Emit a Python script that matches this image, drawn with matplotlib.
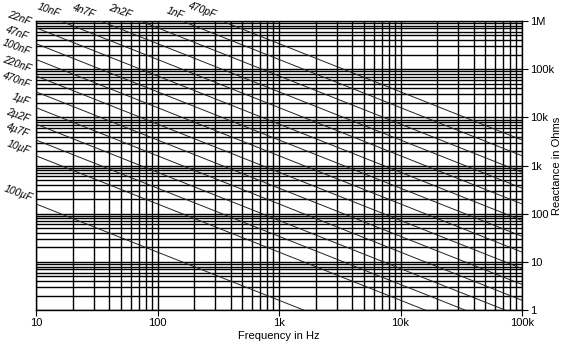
import numpy as np
import matplotlib
matplotlib.use("Agg")
import matplotlib.pyplot as plt
from matplotlib.ticker import LogLocator, FixedLocator, NullFormatter

plt.rcParams['font.family'] = ['Liberation Sans', 'DejaVu Sans']

# capacitor values (farad) and their labels
caps = [470e-12, 1e-9, 2.2e-9, 4.7e-9, 10e-9, 22e-9, 47e-9, 100e-9,
        220e-9, 470e-9, 1e-6, 2.2e-6, 4.7e-6, 10e-6, 100e-6]
cap_labels = ["470pF", "1nF", "2n2F", "4n7F", "10nF", "22nF", "47nF", "100nF",
              "220nF", "470nF", "1\u00b5F", "2\u00b52F", "4\u00b57F", "10\u00b5F", "100\u00b5F"]

x_ticks = [10, 100, 1e3, 1e4, 1e5]
x_ticklabels = ["10", "100", "1k", "10k", "100k"]
y_ticks = [1, 10, 100, 1e3, 1e4, 1e5, 1e6]
y_ticklabels = ["1", "10", "100", "1k", "10k", "100k", "1M"]

# label positions in figure pixels (centre x, centre y)
label_pos = {
    "470pF": (202, 10), "1nF": (175, 13), "2n2F": (120, 11), "4n7F": (84, 11),
    "10nF": (49, 10), "22nF": (19, 18), "47nF": (17, 33), "100nF": (17, 47),
    "220nF": (17, 64), "470nF": (17, 80), "1\u00b5F": (21, 99), "2\u00b52F": (18, 115),
    "4\u00b57F": (18, 130), "10\u00b5F": (19, 147), "100\u00b5F": (18, 193),
}

W, H = 565, 345
fig = plt.figure(figsize=(W / 100, H / 100), dpi=100)
ax = fig.add_axes([36 / W, 1 - 310 / H, (522 - 36) / W, (310 - 21) / H])

f = np.logspace(1, 5, 400)
for c in caps:
    xc = 1 / (2 * np.pi * f * c)
    ax.plot(f, xc, color='#222222', lw=0.7, zorder=3)

ax.set_xscale('log')
ax.set_yscale('log')
ax.set_xlim(10, 1e5)
ax.set_ylim(1, 1e6)

ax.xaxis.set_major_locator(FixedLocator(x_ticks))
ax.set_xticklabels(x_ticklabels)
ax.yaxis.set_major_locator(FixedLocator(y_ticks))
ax.set_yticklabels(y_ticklabels)
ax.xaxis.set_minor_locator(LogLocator(base=10, subs=np.arange(2, 10), numticks=20))
ax.yaxis.set_minor_locator(LogLocator(base=10, subs=np.arange(2, 10), numticks=20))
ax.xaxis.set_minor_formatter(NullFormatter())
ax.yaxis.set_minor_formatter(NullFormatter())

ax.grid(True, which='both', color='black', lw=1.0)
ax.set_axisbelow(True)
for s in ax.spines.values():
    s.set_color('black')
    s.set_linewidth(1.0)

ax.yaxis.tick_right()
ax.yaxis.set_label_position('right')
ax.tick_params(which='major', direction='out', length=4, width=0.8,
               labelsize=8, pad=2, left=False, top=False, right=True, bottom=True)
ax.tick_params(which='minor', length=0)

ax.set_xlabel("Frequency in Hz", fontsize=8, labelpad=2)
ax.set_ylabel("Reactance in Ohms", fontsize=8, ha='center', va='center')
ax.yaxis.set_label_coords((557 - 36) / (522 - 36), 0.5)

for lab in cap_labels:
    px, py = label_pos[lab]
    fig.text(px / W, 1 - py / H, lab, fontsize=7.5, rotation=-20,
             ha='center', va='center', style='italic', rotation_mode='anchor')

fig.savefig("out.png", dpi=100)
